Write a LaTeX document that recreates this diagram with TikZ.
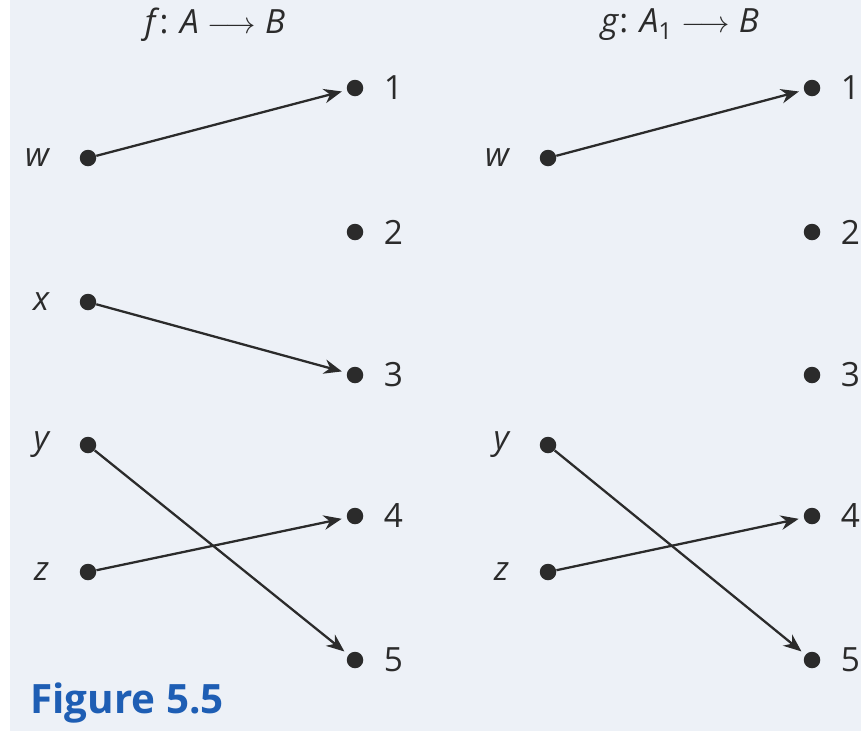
\documentclass[tikz,border=0pt]{standalone}
\usepackage{fontspec}
\setmainfont{Open Sans}
\usepackage{tikz}
\usetikzlibrary{arrows.meta,positioning}
\definecolor{cpaper}{HTML}{EDF1F7}
\definecolor{cink}{HTML}{2B2B2B}
\definecolor{cfig}{HTML}{1E5EB4}

\begin{document}
\begin{tikzpicture}[
    x=0.02cm, y=-0.02cm,
    >={Stealth[length=3.6mm, width=2.9mm]},
    map/.style={->, line width=1.3pt, draw=cink, shorten >=1.0mm},
    pt/.style={circle, fill=cink, inner sep=0pt, minimum size=3.3mm},
    elt/.style={font=\fontsize{19}{22}\selectfont\itshape, text=cink, inner sep=0pt},
    num/.style={font=\fontsize{19}{22}\selectfont, text=cink, inner sep=0pt},
    ttl/.style={font=\fontsize{19}{22}\selectfont, text=cink},
  ]
  % paper and fixed canvas
  \fill[white] (0,0) rectangle (861,731);
  \fill[cpaper] (10,0) rectangle (861,731);
  \path[use as bounding box] (0,0) rectangle (861,731);
  % == f : A -> B
  \node[ttl] (ft) at (215,25) {\textit{f}: \textit{A} $\longrightarrow$ \textit{B}};
  \node[pt] (fw) at (88,158) {};
  \node[pt] (fx) at (88,302) {};
  \node[pt] (fy) at (88,445) {};
  \node[pt] (fz) at (88,572) {};
  \node[pt] (f1) at (355,88) {};
  \node[pt] (f2) at (355,232) {};
  \node[pt] (f3) at (355,375) {};
  \node[pt] (f4) at (355,516) {};
  \node[pt] (f5) at (355,660) {};
  \node[elt, left=6mm of fw] (fwl) {w};
  \node[elt, left=6mm of fx] (fxl) {x};
  \node[elt, left=6mm of fy] (fyl) {y};
  \node[elt, left=6mm of fz] (fzl) {z};
  \node[num, right=4mm of f1] (f1l) {1};
  \node[num, right=4mm of f2] (f2l) {2};
  \node[num, right=4mm of f3] (f3l) {3};
  \node[num, right=4mm of f4] (f4l) {4};
  \node[num, right=4mm of f5] (f5l) {5};
  \draw[map] (fw) -- (f1);
  \draw[map] (fx) -- (f3);
  \draw[map] (fy) -- (f5);
  \draw[map] (fz) -- (f4);
  % == g : A_1 -> B
  \node[ttl] (gt) at (680,25) {\textit{g}: \textit{A}\textsubscript{1} $\longrightarrow$ \textit{B}};
  \node[pt] (gw) at (548,158) {};
  \node[pt] (gy) at (548,445) {};
  \node[pt] (gz) at (548,572) {};
  \node[pt] (g1) at (812,88) {};
  \node[pt] (g2) at (812,232) {};
  \node[pt] (g3) at (812,375) {};
  \node[pt] (g4) at (812,516) {};
  \node[pt] (g5) at (812,660) {};
  \node[elt, left=6mm of gw] (gwl) {w};
  \node[elt, left=6mm of gy] (gyl) {y};
  \node[elt, left=6mm of gz] (gzl) {z};
  \node[num, right=4mm of g1] (g1l) {1};
  \node[num, right=4mm of g2] (g2l) {2};
  \node[num, right=4mm of g3] (g3l) {3};
  \node[num, right=4mm of g4] (g4l) {4};
  \node[num, right=4mm of g5] (g5l) {5};
  \draw[map] (gw) -- (g1);
  \draw[map] (gy) -- (g5);
  \draw[map] (gz) -- (g4);
  % caption
  \node[font=\fontsize{23}{26}\selectfont\bfseries, text=cfig, anchor=west, inner sep=0pt] (cap) at (30,703) {Figure 5.5};
\end{tikzpicture}
\end{document}
